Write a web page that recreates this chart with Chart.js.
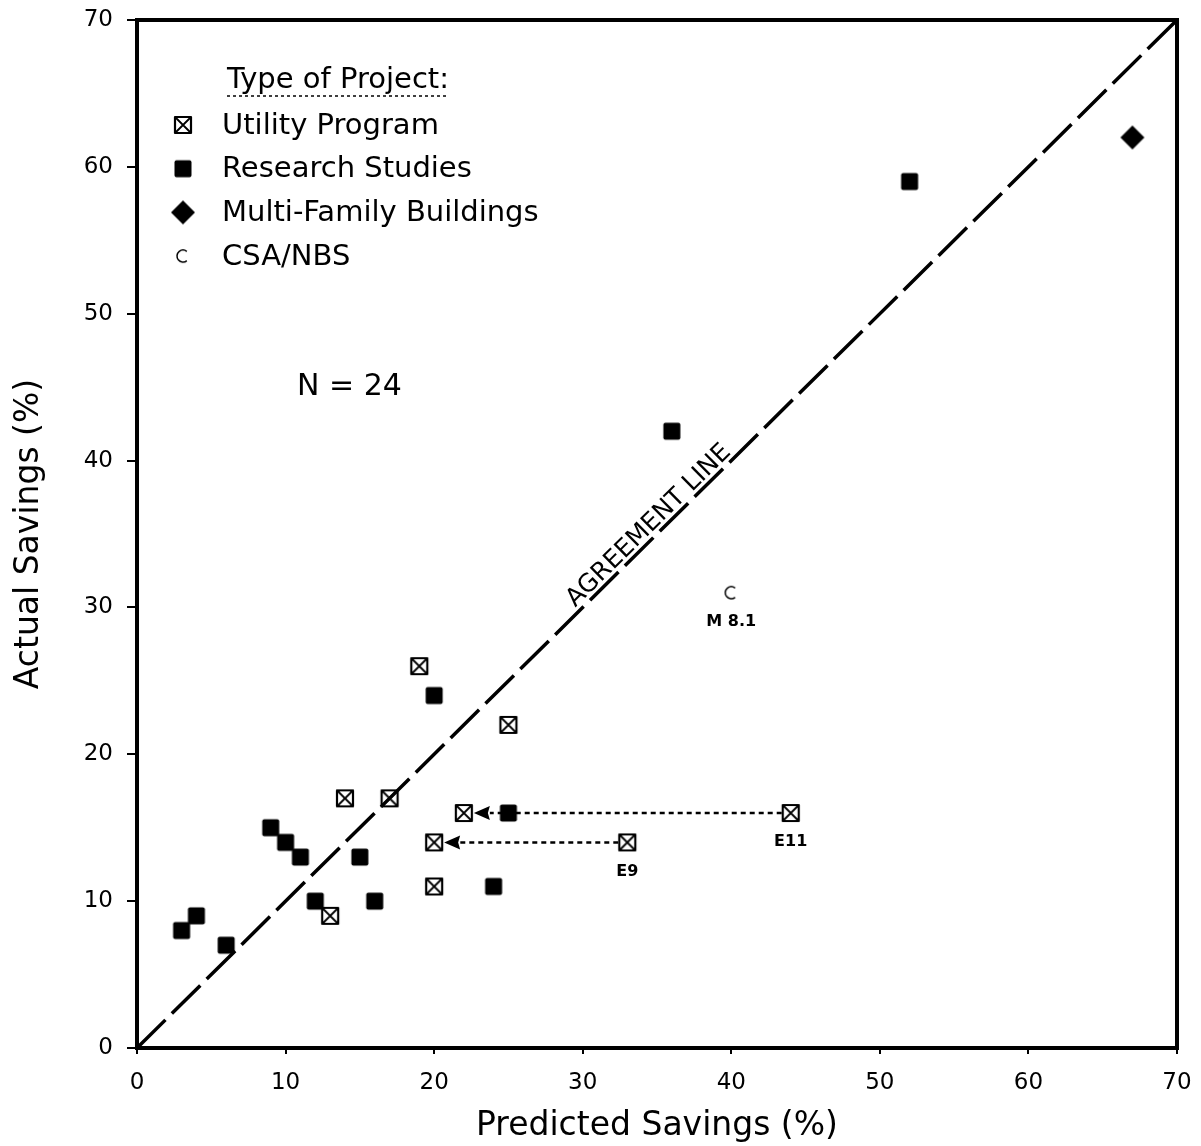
<!DOCTYPE html>
<html><head><meta charset="utf-8">
<script src="https://cdn.jsdelivr.net/npm/chart.js@4.4.0/dist/chart.umd.min.js"></script>
<style>html,body{margin:0;padding:0;background:#fff}canvas{display:block}</style>
</head><body>
<canvas id="c" width="1201" height="1146"></canvas>
<script>
// ---- data ----
const utilityX = [19, 25, 14, 17, 22, 44, 20, 33, 20, 13];
const utilityY = [26, 22, 17, 17, 16, 16, 14, 14, 11, 9];
const researchX = [52, 36, 20, 25, 9, 10, 11, 15, 12, 16, 24, 3, 4, 6];
const researchY = [59, 42, 24, 16, 15, 14, 13, 13, 10, 10, 11, 8, 9, 7];
const multiX = [67];
const multiY = [62];
const csaX = [40];
const csaY = [31];
const agreementX = [0, 70];
const agreementY = [0, 70];
const arrowFromX = [44, 33];
const arrowToX = [22, 20];
const arrowY = [16, 14];
const pointLabelText = ['E11', 'E9', 'M 8.1'];
const pointLabelX = [44, 33, 40];
const pointLabelY = [16, 14, 31];
const legendTitle = 'Type of Project:';
const seriesNames = ['Utility Program', 'Research Studies', 'Multi-Family Buildings', 'CSA/NBS'];
const axisMin = 0, axisMax = 70, axisStep = 10;
const xTitle = 'Predicted Savings (%)';
const yTitle = 'Actual Savings (%)';
const nText = 'N = 24';
const nAtX = 14.3, nAtY = 45;
const agreementText = 'AGREEMENT LINE';
const agreementLabelAt = 35;

const FONT = "'DejaVu Sans', sans-serif";
Chart.defaults.font.family = FONT;
Chart.defaults.color = '#000';

function zip(xs, ys) { return xs.map((v, i) => ({x: v, y: ys[i]})); }

function makeMarker(kind) {
  const c = document.createElement('canvas');
  c.width = 28; c.height = 28;
  const g = c.getContext('2d');
  const m = 14;
  g.strokeStyle = '#000'; g.fillStyle = '#000'; g.lineJoin = 'round';
  if (kind === 'utility') {
    g.lineWidth = 2.2;
    g.strokeRect(m - 8, m - 8, 16, 16);
    g.lineWidth = 1.8;
    g.beginPath();
    g.moveTo(m - 7, m - 7); g.lineTo(m + 7, m + 7);
    g.moveTo(m + 7, m - 7); g.lineTo(m - 7, m + 7);
    g.stroke();
  } else if (kind === 'research') {
    g.beginPath();
    if (g.roundRect) g.roundRect(m - 8.5, m - 8.5, 17, 17, 2); else g.rect(m - 8.5, m - 8.5, 17, 17);
    g.fill();
  } else if (kind === 'multi') {
    g.beginPath();
    g.moveTo(m, m - 12); g.lineTo(m + 12, m); g.lineTo(m, m + 12); g.lineTo(m - 12, m);
    g.closePath(); g.fill();
  } else {
    g.lineWidth = 1.5;
    g.beginPath();
    g.arc(m, m, 6, 0.28 * Math.PI, 1.72 * Math.PI);
    g.stroke();
  }
  return c;
}
const markers = [makeMarker('utility'), makeMarker('research'), makeMarker('multi'), makeMarker('csa')];

const annot = {
  id: 'annot',
  beforeDatasetsDraw(chart) {
    const {ctx, scales: {x, y}} = chart;
    ctx.save();
    ctx.strokeStyle = '#000'; ctx.fillStyle = '#000';
    for (let i = 0; i < arrowFromX.length; i++) {
      const yy = y.getPixelForValue(arrowY[i]);
      const xs = x.getPixelForValue(arrowFromX[i]) - 9;
      const tip = x.getPixelForValue(arrowToX[i]) + 10;
      const base = tip + 16;
      ctx.setLineDash([5, 4]); ctx.lineWidth = 2.5;
      ctx.beginPath(); ctx.moveTo(xs, yy); ctx.lineTo(base, yy); ctx.stroke();
      ctx.setLineDash([]);
      ctx.beginPath();
      ctx.moveTo(tip, yy); ctx.lineTo(base, yy - 7); ctx.lineTo(base - 2, yy); ctx.lineTo(base, yy + 7);
      ctx.closePath(); ctx.fill();
    }
    ctx.restore();
  },
  afterDatasetsDraw(chart) {
    const {ctx, chartArea: a, scales: {x, y}} = chart;
    ctx.save();
    ctx.fillStyle = '#000'; ctx.strokeStyle = '#000';
    // frame
    ctx.lineWidth = 4;
    ctx.strokeRect(a.left, a.top, a.right - a.left, a.bottom - a.top);
    // point labels
    ctx.font = 'bold 16px ' + FONT;
    ctx.textAlign = 'center'; ctx.textBaseline = 'middle';
    for (let i = 0; i < pointLabelText.length; i++) {
      ctx.fillText(pointLabelText[i], x.getPixelForValue(pointLabelX[i]), y.getPixelForValue(pointLabelY[i]) + 29);
    }
    // N = 24
    ctx.font = '30px ' + FONT;
    ctx.fillText(nText, x.getPixelForValue(nAtX), y.getPixelForValue(nAtY));
    // agreement label
    const px = x.getPixelForValue(agreementLabelAt), py = y.getPixelForValue(agreementLabelAt);
    const ang = Math.atan2(y.getPixelForValue(70) - y.getPixelForValue(0), x.getPixelForValue(70) - x.getPixelForValue(0));
    ctx.translate(px, py);
    ctx.rotate(ang);
    ctx.font = '25px ' + FONT;
    ctx.textBaseline = 'alphabetic';
    ctx.fillText(agreementText, 0, -5);
    ctx.setTransform(1, 0, 0, 1, 0, 0);
    // legend
    const lx = a.left, ly = a.top;
    ctx.font = '29px ' + FONT;
    ctx.textAlign = 'left'; ctx.textBaseline = 'middle';
    ctx.fillText(legendTitle, lx + 90, ly + 60);
    const tw = ctx.measureText(legendTitle).width;
    ctx.lineWidth = 1.5; ctx.setLineDash([3, 3]);
    ctx.beginPath(); ctx.moveTo(lx + 90, ly + 76); ctx.lineTo(lx + 90 + tw, ly + 76); ctx.stroke();
    ctx.setLineDash([]);
    for (let i = 0; i < seriesNames.length; i++) {
      const yy = ly + 105 + i * 43.7;
      ctx.drawImage(markers[i], lx + 46 - 14, yy - 14);
      ctx.fillText(seriesNames[i], lx + 85, yy + 1);
    }
    ctx.restore();
  }
};

function noPad(s) { s.paddingLeft = 0; s.paddingRight = 0; s.paddingTop = 0; s.paddingBottom = 0; }

new Chart(document.getElementById('c'), {
  type: 'scatter',
  data: {
    datasets: [
      { label: 'Agreement line', type: 'line', data: zip(agreementX, agreementY),
        borderColor: '#000', borderWidth: 3.5, borderDash: [40, 9], pointRadius: 0, fill: false, order: 5 },
      { label: seriesNames[0], data: zip(utilityX, utilityY), pointStyle: markers[0], pointRadius: 9, order: 1 },
      { label: seriesNames[1], data: zip(researchX, researchY), pointStyle: markers[1], pointRadius: 9, order: 0 },
      { label: seriesNames[2], data: zip(multiX, multiY), pointStyle: markers[2], pointRadius: 12, order: 0 },
      { label: seriesNames[3], data: zip(csaX, csaY), pointStyle: markers[3], pointRadius: 6, order: 0 }
    ]
  },
  options: {
    responsive: false,
    animation: false,
    events: [],
    layout: { padding: { top: 20, right: 24, left: 0, bottom: 0 } },
    plugins: { legend: { display: false }, tooltip: { enabled: false } },
    scales: {
      x: {
        type: 'linear', min: axisMin, max: axisMax,
        ticks: { stepSize: axisStep, font: { size: 23 }, color: '#000', padding: 15, maxRotation: 0 },
        grid: { display: true, drawOnChartArea: false, drawTicks: true, tickLength: 6, color: '#000', lineWidth: 2 },
        border: { display: false },
        title: { display: true, text: xTitle, font: { size: 33 }, color: '#000', padding: { top: 0, bottom: 0 } },
        afterFit(s) { s.height = 98; noPad(s); }
      },
      y: {
        type: 'linear', min: axisMin, max: axisMax,
        ticks: { stepSize: axisStep, font: { size: 23 }, color: '#000', padding: 14 },
        grid: { display: true, drawOnChartArea: false, drawTicks: true, tickLength: 10, color: '#000', lineWidth: 2 },
        border: { display: false },
        title: { display: true, text: yTitle, font: { size: 33 }, color: '#000', padding: { top: 10, bottom: 0 } },
        afterFit(s) { s.width = 137; noPad(s); }
      }
    }
  },
  plugins: [annot]
});
</script>
</body></html>
